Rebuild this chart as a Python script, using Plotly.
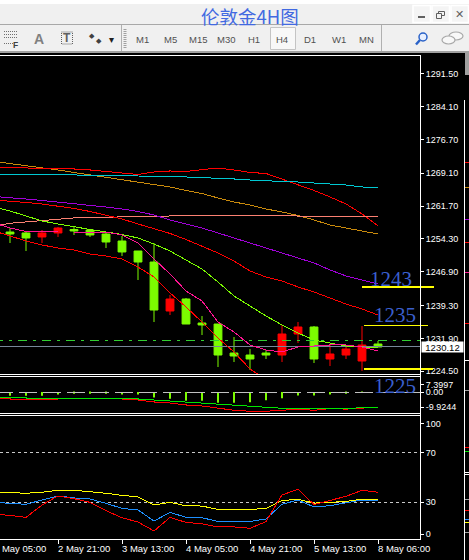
import plotly.graph_objects as go

# ---------- data ----------
candle_idx = list(range(24))
opens  = [1255.87,1255.65,1254.75,1255.65,1256.43,1256.32,1255.42,1253.84,1251.59,1249.11,1238.08,1240.78,1235.38,1235.15,1228.62,1228.17,1228.62,1228.17,1232.90,1234.48,1227.27,1228.17,1226.82,1230.65]
closes = [1255.42,1254.52,1255.65,1256.77,1256.10,1255.20,1253.62,1251.37,1249.11,1238.30,1240.78,1235.15,1234.93,1228.17,1227.95,1227.27,1228.17,1232.90,1234.48,1227.27,1228.40,1229.52,1230.42,1229.97]
highs  = [1256.77,1255.87,1256.32,1257.00,1257.00,1256.55,1255.87,1254.97,1251.59,1253.39,1241.68,1241.00,1236.95,1235.15,1232.22,1229.52,1229.30,1234.93,1235.60,1234.70,1230.42,1230.20,1234.70,1231.32]
lows   = [1253.39,1251.59,1253.39,1254.75,1255.20,1254.75,1252.27,1250.47,1245.06,1235.60,1237.18,1235.15,1232.67,1225.47,1226.59,1224.79,1227.27,1226.59,1230.87,1226.37,1225.69,1227.27,1224.57,1229.97]

line_idx = list(range(-1, 24))
ma_orange = [1271.75,1271.30,1270.85,1270.29,1269.84,1269.27,1268.71,1268.26,1267.70,1267.13,1266.57,1266.01,1265.22,1264.54,1263.53,1262.63,1261.96,1261.05,1260.38,1259.59,1258.58,1257.45,1256.77,1256.10,1255.42]
ma_red_top = [1270.40,1270.40,1270.29,1270.18,1270.18,1270.06,1269.84,1269.50,1269.16,1268.82,1269.39,1269.61,1269.50,1269.84,1270.29,1269.84,1269.27,1269.05,1267.81,1266.57,1265.22,1263.76,1262.18,1259.93,1257.23]
ma_cyan = [1268.94,1268.94,1268.94,1268.82,1268.82,1268.71,1268.71,1268.60,1268.60,1268.48,1268.48,1268.37,1268.26,1268.15,1268.03,1267.81,1267.58,1267.36,1267.25,1267.13,1266.91,1266.68,1266.46,1266.01,1265.90]
ma_salmon = [1257.23,1257.83,1258.13,1258.42,1258.73,1259.03,1259.03,1259.18,1259.41,1259.41,1259.41,1259.54,1259.54,1259.54,1259.54,1259.54,1259.54,1259.54,1259.54,1259.54,1259.54,1259.54,1259.54,1259.41,1259.41]
ma_purple = [1263.87,1263.64,1263.30,1262.97,1262.63,1262.18,1261.84,1261.50,1261.05,1260.49,1259.70,1258.58,1257.68,1256.77,1255.65,1254.52,1253.39,1252.27,1251.14,1250.13,1248.90,1247.32,1245.97,1245.06,1244.16]
ma_red_mid = [1263.08,1262.86,1262.52,1262.18,1261.73,1261.17,1260.49,1259.70,1258.80,1257.68,1256.55,1255.54,1254.18,1252.72,1251.14,1249.34,1247.09,1245.74,1244.84,1243.49,1242.36,1241.01,1239.66,1238.53,1237.18]
ma_lime = [1261.50,1260.60,1259.48,1258.35,1257.68,1257.00,1256.44,1255.87,1255.31,1254.52,1253.17,1251.59,1249.57,1247.54,1244.61,1241.46,1239.21,1236.96,1234.93,1233.13,1231.55,1230.88,1230.20,1229.98,1229.75]
ma_pink = [1257.90,1256.77,1255.99,1255.87,1255.87,1255.87,1255.87,1255.87,1255.20,1253.40,1249.79,1246.42,1242.59,1240.33,1235.60,1233.36,1230.43,1229.30,1228.85,1229.98,1230.20,1230.43,1230.43,1229.98,1229.08]
ma_red_low = [1256.10,1254.97,1253.85,1252.95,1252.27,1251.82,1250.92,1250.47,1249.79,1247.99,1245.74,1242.14,1238.99,1235.60,1232.00,1228.85,1225.02,1222.60,1220.74]

ask_price = 1231.5
bid_price = 1230.12
level_values = [1243.55, 1234.9, 1225.0]
level_spans = [(22, 26.5), (22.125, 26.125), (22.125, 26.44)]
level_widths = [2, 1, 2]
level_labels = ["1243", "1235", "1225"]

price_ticks = [1291.5, 1284.1, 1276.7, 1269.1, 1261.7, 1254.3, 1246.9, 1239.3, 1231.9, 1224.5]

macd_hist = [-2.5,-2.5,-2.5,-1.6,-1.2,-1.2,-1.2,-1.6,-1.6,-3.7,-4.6,-6.0,-6.0,-7.4,-7.4,-7.1,-5.7,-4.3,-2.3,-2.3,-1.6,-1.2,-0.2,0.0]
macd_green = [-4.1,-4.1,-4.1,-4.8,-4.8,-4.8,-4.8,-4.8,-4.8,-4.8,-5.5,-6.2,-6.9,-7.6,-8.3,-9.0,-9.5,-10.4,-11.3,-11.3,-11.3,-11.3,-11.7,-10.8,-10.8]
macd_red = [-4.8,-4.8,-5.5,-5.5,-4.8,-4.8,-4.8,-4.8,-4.8,-5.5,-6.9,-7.6,-9.0,-9.7,-11.0,-12.7,-13.4,-13.4,-12.7,-11.9,-12.7,-11.5,-11.9,-11.2,-10.5]

stoch_yellow = [38.2,38.0,37.2,38.0,39.6,39.6,38.6,37.2,35.5,34.2,27.6,29.8,27.0,26.8,24.0,24.0,24.0,24.9,31.2,32.3,29.2,29.8,30.6,32.3,32.3]
stoch_blue = [29.8,29.0,28.2,31.7,35.0,33.4,32.5,29.0,24.9,23.6,14.6,21.7,17.6,17.3,14.3,14.3,14.3,16.3,28.2,31.7,26.0,27.1,29.5,31.7,31.7]
stoch_red = [20.1,19.2,17.6,27.6,35.0,32.8,29.8,23.0,17.3,13.8,6.5,17.6,13.5,12.4,9.8,9.8,8.7,14.1,35.8,40.4,28.0,31.2,34.7,39.6,38.0]
stoch_levels = [70, 30]

time_tick_idx = [3, 7, 11, 15, 19, 23]
time_labels = ["2 May 21:00", "3 May 13:00", "4 May 05:00", "4 May 21:00", "5 May 13:00", "8 May 06:00"]
first_time_label = "2 May 05:00"

periods = ["M1", "M5", "M15", "M30", "H1", "H4", "D1", "W1", "MN"]
period_x = [142, 170, 198, 226, 254, 282, 310, 339, 366]
title_text = "伦敦金4H图"

# ---------- styles ----------
W, H = 469, 560
GREEN, RED, BLUE = "#7cfc00", "#ff0000", "#3a5fcd"
FONT = "Liberation Sans"
X_LEFT, X_AXIS = -0.625, 25.625


def px(x):
    return x / W


def py(y):
    return 1 - y / H


fig = go.Figure()


def line(x, y, color, yaxis="y", width=1, dash=None):
    fig.add_trace(go.Scatter(x=x, y=y, mode="lines", yaxis=yaxis, hoverinfo="skip",
                             line=dict(color=color, width=width, dash=dash), showlegend=False))


# reference lines under the candles
line([X_LEFT, X_AXIS], [bid_price, bid_price], "#778899", width=1.3)
line([-1, X_AXIS], [ask_price, ask_price], "#32cd32", dash="9px,6px,3px,6px")

fig.add_trace(go.Candlestick(
    x=candle_idx, open=opens, high=highs, low=lows, close=closes, yaxis="y",
    increasing=dict(line=dict(color=RED, width=1), fillcolor=RED),
    decreasing=dict(line=dict(color=GREEN, width=1), fillcolor=GREEN),
    whiskerwidth=0, hoverinfo="skip", showlegend=False))

line(line_idx, ma_orange, "#c98a0c")
line(line_idx, ma_red_top, RED)
line(line_idx, ma_cyan, "#00c8d2")
line(line_idx, ma_salmon, "#fa8072")
line(line_idx, ma_purple, "#a000d8")
line(line_idx, ma_red_mid, RED)
line(line_idx, ma_lime, GREEN)
line(line_idx, ma_pink, "#ff1493")
line(line_idx[:len(ma_red_low)], ma_red_low, RED)

for v, sp, w in zip(level_values, level_spans, level_widths):
    line(list(sp), [v, v], "#ffff00", width=w)

# MACD pane
line([-0.9375, X_AXIS], [0, 0], "#c0c0c0", yaxis="y2", dash="18px,6px")
fig.add_trace(go.Bar(x=candle_idx, y=macd_hist, yaxis="y2", width=0.125, marker=dict(color=GREEN, line=dict(width=0)),
                     hoverinfo="skip", showlegend=False))
line(line_idx, macd_red, RED, yaxis="y2", width=1)
line(line_idx, macd_green, "#00e600", yaxis="y2", width=1)

# stochastic pane
for lv in stoch_levels:
    line([X_LEFT, X_AXIS], [lv, lv], "#c8c8c8", yaxis="y3", dash="3px,3px")
line(line_idx, stoch_yellow, "#ffff00", yaxis="y3")
line(line_idx, stoch_blue, "#1e90ff", yaxis="y3")
line(line_idx, stoch_red, RED, yaxis="y3")


def yax(dom, rng, vals, text, **kw):
    return dict(domain=[py(dom[1]), py(dom[0])], range=rng, anchor="free", position=420 / W, side="right",
                tickmode="array", tickvals=vals, ticktext=text, ticks="outside", ticklen=3, tickcolor="white",
                tickfont=dict(family=FONT, size=9, color="white"), showgrid=False, zeroline=False,
                showline=False, layer="below traces", fixedrange=True, **kw)


fig.update_layout(
    width=W, height=H, margin=dict(l=0, r=0, t=0, b=0), autosize=False,
    paper_bgcolor="#f0f0f0", plot_bgcolor="rgba(0,0,0,0)", showlegend=False, barmode="overlay",
    font=dict(family=FONT, color="white"),
    xaxis=dict(domain=[0, 1], range=[X_LEFT, (469 - 10) / 16], anchor="y3", rangeslider=dict(visible=False),
               tickmode="array", tickvals=time_tick_idx, ticktext=[""] * 6, ticks="outside", ticklen=4,
               tickcolor="white", showgrid=False, zeroline=False, showline=False, fixedrange=True),
    yaxis=yax((56, 375), [1223.67, 1295.5], price_ticks, [f"{t:.2f}" for t in price_ticks]),
    yaxis2=yax((377.5, 413), [-14.6, 10.2], [5.0, 0, -10.6], ["7.3997", "0.00", "-9.9244"]),
    yaxis3=yax((416, 539), [0, 100], [94.0, 70, 30, 3.8], ["100", "70", "30", "0"]),
)

shapes, ann = [], []


def rect(x0, y0, x1, y1, fill, color=None, layer="below", lw=1):
    shapes.append(dict(type="rect", xref="paper", yref="paper", x0=px(x0), x1=px(x1), y0=py(y0), y1=py(y1),
                       fillcolor=fill, line=dict(color=color or fill, width=lw if color else 0), layer=layer))


def seg(x0, y0, x1, y1, color, width=1, dash=None, layer="below"):
    shapes.append(dict(type="line", xref="paper", yref="paper", x0=px(x0), x1=px(x1), y0=py(y0), y1=py(y1),
                       line=dict(color=color, width=width, dash=dash), layer=layer))


def hbar(x0, x1, row, color="white", layer="above"):
    rect(x0, row, x1, row + 1, color, layer=layer)


def vbar(col, y0, y1, color="white", layer="above"):
    rect(col, y0, col + 1, y1, color, layer=layer)


def text(x, y, s, size=9.5, color="#505050", anchor="center", family=FONT, **kw):
    ann.append(dict(xref="paper", yref="paper", x=px(x), y=py(y), text=s, showarrow=False, xanchor=anchor,
                    yanchor="middle", font=dict(family=family, size=size, color=color), **kw))


# background and toolbar
rect(0, 0, W, 4, "#ffffff")
rect(0, 53, W, H, "#000000")
rect(465, 53, W, 75, "#a0a0a0")
hbar(0, W, 24, "#a8a8a8", "below")
rect(0, 51, W, 53, "#a0a0a0")
vbar(121, 25, 51, "#b0b0b0", "below")
vbar(381, 25, 51, "#b0b0b0", "below")
seg(125, 29, 125, 48, "#a0a0a0", 3, "1px,1px")
rect(270.5, 27.5, 295.5, 49.5, "#f8f8f8", "#c4c4c4")
for x0 in (413, 432, 451):
    rect(x0, 5.5, x0 + 17.5, 22.5, "#f4f4f4", "#ffffff", lw=1.5)
rect(418, 16, 425, 18, "#606060")
rect(438.5, 11.5, 444.5, 15.5, "rgba(0,0,0,0)", "#606060")
rect(436.5, 13.5, 441.5, 18.5, "#f4f4f4", "#606060")
text(459.5, 14, "✕", 11, "#606060", family="DejaVu Sans")

# toolbar icons
for yy in (31.5, 34.5, 37.5):
    seg(4, yy, 17, yy, "#707070", 1, "1px,1px")
seg(4, 43.5, 13, 43.5, "#707070", 1, "1px,1px")
text(15.5, 44.5, "<b>F</b>", 8.5, "#404040")
text(39, 39.5, "<b>A</b>", 14, "#808080")
rect(61.5, 32, 72.5, 44, "rgba(0,0,0,0)", "#606060")
shapes[-1]["line"]["dash"] = "1px,1px"
text(67, 38.5, "<b>T</b>", 12, "#606060")
text(92, 36.5, "◆", 7, "#404040", family="DejaVu Sans")
text(99, 41, "◆", 7, "#404040", family="DejaVu Sans")
text(111, 39.5, "▾", 10, "#202020", family="DejaVu Sans")
shapes.append(dict(type="circle", xref="paper", yref="paper", x0=px(419), x1=px(427), y0=py(41), y1=py(33),
                   line=dict(color="#2a62c8", width=1.5), fillcolor="#e8f0ff"))
seg(420, 40, 416, 44.5, "#2a62c8", 2.5)
shapes.append(dict(type="circle", xref="paper", yref="paper", x0=px(449), x1=px(463), y0=py(40), y1=py(32),
                   line=dict(color="#a8a8a8", width=1.2), fillcolor="#f8f8f8"))
shapes.append(dict(type="circle", xref="paper", yref="paper", x0=px(442), x1=px(455), y0=py(44), y1=py(36),
                   line=dict(color="#a8a8a8", width=1.2), fillcolor="#f8f8f8"))

text(250, 16, title_text, 18.5, "#4169e1", family="Noto Sans CJK SC")
for p, x in zip(periods, period_x):
    text(x, 39.5, p, 9.5, "#505050")

# pane borders
hbar(0, 421, 55)
vbar(420, 55, 540)
for row in (374, 376, 413, 415, 539):
    hbar(0, 420, row)

# neighbouring window strip at the right edge
vbar(464, 100, 560)
for row in (360, 472, 474):
    hbar(465, W, row)
for row, col in ((162, RED), (187, "#c98a0c"), (219, "#a000d8"), (242, RED), (272, "#ff1493"), (323, RED),
                 (390, "#a0a0a0"), (447, RED), (451, "#00e600"), (499, "#a0a0a0"), (510, RED),
                 (519, "#1e90ff"), (522, "#ffff00"), (532, "#a0a0a0")):
    hbar(465, W, row, col)

# price tag
ann.append(dict(xref="paper", yref="paper", x=px(442.5), y=py(346.7), text=f"{bid_price:.2f}", showarrow=False,
                xanchor="center", yanchor="middle", width=41, height=10, bgcolor="white", borderpad=0,
                font=dict(family=FONT, size=9.5, color="black")))

# level texts
for s, xx, yy in zip(level_labels, (391, 394.5, 394.5), (279, 315, 386)):
    text(xx, yy, s, 21, BLUE, family="Liberation Sans Narrow")

# time labels
for i, s in zip(time_tick_idx, time_labels):
    ann.append(dict(xref="x", yref="paper", x=i, y=py(548.5), text=s, showarrow=False, xanchor="left", xshift=-2,
                    yanchor="middle", font=dict(family=FONT, size=9.5, color="white")))
ann.append(dict(xref="paper", yref="paper", x=px(-8), y=py(548.5), text=first_time_label, showarrow=False, xanchor="left",
                yanchor="middle", font=dict(family=FONT, size=9.5, color="white")))

fig.update_layout(shapes=shapes, annotations=ann)
fig.write_html("out.html", config=dict(displayModeBar=False),
               post_script="document.body.style.margin='0';document.body.style.overflow='hidden';"
                           "document.querySelectorAll('.scatterlayer .js-line').forEach(function(p){p.style.shapeRendering='crispEdges';});")
